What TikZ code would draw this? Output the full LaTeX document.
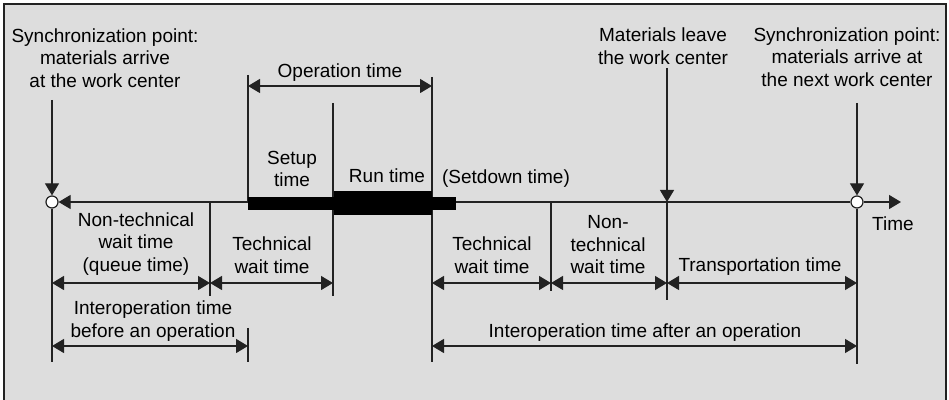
\documentclass[tikz,border=0pt]{standalone}
\usepackage{fontspec}
\setmainfont{Liberation Sans}
\usetikzlibrary{arrows.meta}
\definecolor{mBack}{HTML}{DDDDDD}
\definecolor{mLine}{HTML}{222222}

\begin{document}
\begin{tikzpicture}[x=0.5pt, y=-0.5pt, line width=0.6pt, draw=mLine,
      lbl/.style={align=center, inner sep=0pt, font=\fontsize{9.5}{11.25}\selectfont},
      dimarr/.style={{Triangle[length=6pt,width=7pt]}-{Triangle[length=6pt,width=7pt]}},
      downarr/.style={-{Triangle[length=6pt,width=7pt]}},
      syncpt/.style={circle, draw, fill=white, minimum size=6pt, inner sep=0pt}]
    \useasboundingbox (0,0) rectangle (949,400);
    \draw[fill=mBack] (4,4) rectangle (946,410);
    \foreach \n/\x/\b in {a/52/362, b/210/296, c/248/362, d/333/296,
                          e/432/362, f/551/291, g/667/300, h/857/364} {
      \coordinate (\n0) at (\x,202);
      \coordinate (\n1) at (\x,283);
      \coordinate (\n2) at (\x,346);
      \coordinate (\n3) at (\x,\b);
    }
    \coordinate (aIn) at (52,100);
    \coordinate (gIn) at (667,68);
    \coordinate (hIn) at (857,103);
    \coordinate (cTop) at (248,75);
    \coordinate (dTop) at (333,103);
    \coordinate (eTop) at (432,77);
    \coordinate (cTick) at (248,328);
    \coordinate (opL) at (248,86);
    \coordinate (opR) at (432,86);
    \coordinate (tEnd) at (901,202);
    \node[syncpt] (arrive) at (a0) {};
    \node[syncpt] (next) at (h0) {};
    \draw[{Triangle[length=6pt,width=7pt]}-] (arrive) -- (next);
    \draw[-{Triangle[length=6pt,width=7pt]}] (next) -- (tEnd);
    \draw (arrive) -- (a3);
    \draw (b0) -- (b3);
    \draw (cTop) -- (c0);
    \draw (cTick) -- (c3);
    \draw (dTop) -- (d3);
    \draw (eTop) -- (e3);
    \draw (f0) -- (f3);
    \draw (g0) -- (g3);
    \draw (next) -- (h3);
    \fill (248,197) rectangle (334,210);
    \fill (334,191) rectangle (432,215);
    \fill (432,197) rectangle (456,210);
    \draw[downarr] (aIn) -- (arrive);
    \draw[downarr] (gIn) -- (g0);
    \draw[downarr] (hIn) -- (next);
    \draw[dimarr] (opL) -- (opR);
    \draw[dimarr] (a1) -- (b1);
    \draw[dimarr] (b1) -- (d1);
    \draw[dimarr] (e1) -- (f1);
    \draw[dimarr] (f1) -- (g1);
    \draw[dimarr] (g1) -- (h1);
    \draw[dimarr] (a2) -- (c2);
    \draw[dimarr] (e2) -- (h2);
    \node[lbl] (sync1) at (105,58) {Synchronization point:\\materials arrive\\at the work center};
    \node[lbl] (leave) at (663,46) {Materials leave\\the work center};
    \node[lbl] (sync2) at (847,57) {Synchronization point:\\materials arrive at\\the next work center};
    \node[lbl] (optime) at (340,73) {Operation time};
    \node[lbl] (setup) at (292,169) {Setup\\time};
    \node[lbl] (run) at (387,176) {Run time};
    \node[lbl] (setdown) at (506,179) {(Setdown time)};
    \node[lbl] (time) at (893,224) {Time};
    \node[lbl] (queue) at (136,244) {Non-technical\\wait time\\(queue time)};
    \node[lbl] (tech1) at (272,255) {Technical\\wait time};
    \node[lbl] (before) at (153,321) {Interoperation time\\before an operation};
    \node[lbl] (tech2) at (492,255) {Technical\\wait time};
    \node[lbl] (nontech) at (608,245) {Non-\\technical\\wait time};
    \node[lbl] (transport) at (760,267) {Transportation time};
    \node[lbl] (after) at (645,333) {Interoperation time after an operation};
  \end{tikzpicture}
\end{document}
